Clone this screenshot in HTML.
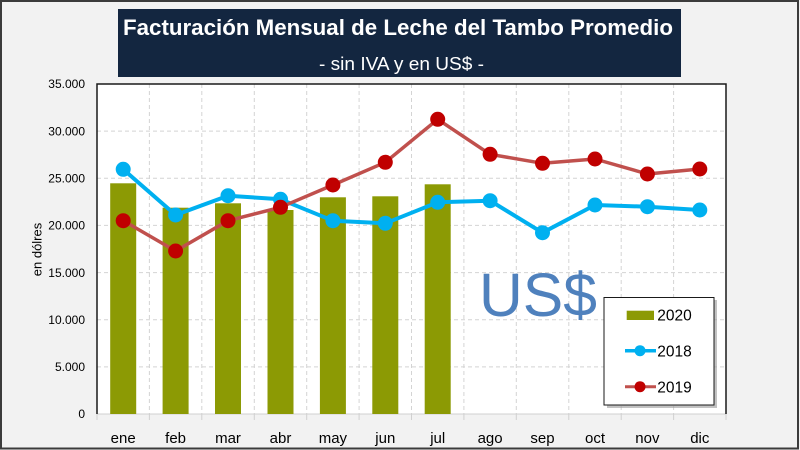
<!DOCTYPE html>
<html>
<head>
<meta charset="utf-8">
<style>
  html,body{margin:0;padding:0;background:#f2f2f2;}
  body{width:800px;height:450px;overflow:hidden;}
  svg{display:block;font-family:"Liberation Sans",sans-serif;}
</style>
</head>
<body>
<svg width="800" height="450" viewBox="0 0 800 450" xmlns="http://www.w3.org/2000/svg">
  <!-- background and outer frame -->
  <rect x="0" y="0" width="800" height="450" fill="#f2f2f2"/>
  <rect x="1" y="1" width="797" height="447.5" fill="none" stroke="#3c3c3c" stroke-width="2"/>

  <!-- Title box -->
  <rect x="118" y="9" width="563" height="68" fill="#132640"/>
  <text x="123" y="35" font-size="22.5" font-weight="bold" fill="#ffffff" textLength="550" lengthAdjust="spacingAndGlyphs">Facturación Mensual de Leche del Tambo Promedio</text>
  <text x="319" y="70" font-size="18.5" fill="#ffffff" textLength="165" lengthAdjust="spacingAndGlyphs">- sin IVA y en US$ -</text>

  <!-- Plot area -->
  <rect x="97" y="84" width="629" height="330" fill="#ffffff"/>

  <!-- horizontal gridlines -->
  <g stroke="#d4d4d4" stroke-width="1" stroke-dasharray="4,3">
    <line x1="97" y1="366.9" x2="726" y2="366.9"/>
    <line x1="97" y1="319.7" x2="726" y2="319.7"/>
    <line x1="97" y1="272.6" x2="726" y2="272.6"/>
    <line x1="97" y1="225.4" x2="726" y2="225.4"/>
    <line x1="97" y1="178.3" x2="726" y2="178.3"/>
    <line x1="97" y1="131.1" x2="726" y2="131.1"/>
  </g>
  <!-- vertical gridlines -->
  <g stroke="#d4d4d4" stroke-width="1" stroke-dasharray="4,3">
    <line x1="149.4" y1="84" x2="149.4" y2="414"/>
    <line x1="201.8" y1="84" x2="201.8" y2="414"/>
    <line x1="254.3" y1="84" x2="254.3" y2="414"/>
    <line x1="306.7" y1="84" x2="306.7" y2="414"/>
    <line x1="359.1" y1="84" x2="359.1" y2="414"/>
    <line x1="411.5" y1="84" x2="411.5" y2="414"/>
    <line x1="463.9" y1="84" x2="463.9" y2="414"/>
    <line x1="516.3" y1="84" x2="516.3" y2="414"/>
    <line x1="568.8" y1="84" x2="568.8" y2="414"/>
    <line x1="621.2" y1="84" x2="621.2" y2="414"/>
    <line x1="673.6" y1="84" x2="673.6" y2="414"/>
  </g>

  <!-- bottom axis and ticks -->
  <line x1="97" y1="414" x2="726" y2="414" stroke="#d0d0d0" stroke-width="1"/>
  <g stroke="#d0d0d0" stroke-width="1">
    <line x1="97" y1="414" x2="97" y2="420"/>
    <line x1="149.4" y1="414" x2="149.4" y2="420"/>
    <line x1="201.8" y1="414" x2="201.8" y2="420"/>
    <line x1="254.3" y1="414" x2="254.3" y2="420"/>
    <line x1="306.7" y1="414" x2="306.7" y2="420"/>
    <line x1="359.1" y1="414" x2="359.1" y2="420"/>
    <line x1="411.5" y1="414" x2="411.5" y2="420"/>
    <line x1="463.9" y1="414" x2="463.9" y2="420"/>
    <line x1="516.3" y1="414" x2="516.3" y2="420"/>
    <line x1="568.8" y1="414" x2="568.8" y2="420"/>
    <line x1="621.2" y1="414" x2="621.2" y2="420"/>
    <line x1="673.6" y1="414" x2="673.6" y2="420"/>
    <line x1="726" y1="414" x2="726" y2="420"/>
  </g>

  <!-- plot border (top, left, right) -->
  <polyline points="97,414 97,84 726,84 726,414" fill="none" stroke="#1a1a1a" stroke-width="1.5"/>

  <!-- Bars 2020 -->
  <g fill="#8c9a04">
    <rect x="110.2" y="183.3" width="26" height="230.7"/>
    <rect x="162.6" y="207.7" width="26" height="206.3"/>
    <rect x="215.0" y="203.3" width="26" height="210.7"/>
    <rect x="267.5" y="210.0" width="26" height="204.0"/>
    <rect x="319.9" y="197.3" width="26" height="216.7"/>
    <rect x="372.3" y="196.3" width="26" height="217.7"/>
    <rect x="424.7" y="184.3" width="26" height="229.7"/>
  </g>

  <!-- US$ watermark -->
  <text x="479" y="316" font-size="61" fill="#4f81bd" textLength="118" lengthAdjust="spacingAndGlyphs">US$</text>

  <!-- 2018 line -->
  <polyline fill="none" stroke="#00b0f0" stroke-width="4" stroke-linejoin="round"
    points="123.2,169.3 175.6,215 228.0,195.7 280.5,199.3 332.9,220.7 385.3,223.3 437.7,202.3 490.1,200.7 542.5,232.7 595.0,205 647.4,206.7 699.8,210"/>
  <g fill="#00b0f0">
    <circle cx="123.2" cy="169.3" r="7.5"/>
    <circle cx="175.6" cy="215" r="7.5"/>
    <circle cx="228.0" cy="195.7" r="7.5"/>
    <circle cx="280.5" cy="199.3" r="7.5"/>
    <circle cx="332.9" cy="220.7" r="7.5"/>
    <circle cx="385.3" cy="223.3" r="7.5"/>
    <circle cx="437.7" cy="202.3" r="7.5"/>
    <circle cx="490.1" cy="200.7" r="7.5"/>
    <circle cx="542.5" cy="232.7" r="7.5"/>
    <circle cx="595.0" cy="205" r="7.5"/>
    <circle cx="647.4" cy="206.7" r="7.5"/>
    <circle cx="699.8" cy="210" r="7.5"/>
  </g>

  <!-- 2019 line -->
  <polyline fill="none" stroke="#c0504d" stroke-width="3.5" stroke-linejoin="round"
    points="123.2,220.7 175.6,251 228.0,220.7 280.5,207.3 332.9,185 385.3,162.3 437.7,119.3 490.1,154.3 542.5,163.3 595.0,159 647.4,174 699.8,169"/>
  <g fill="#c00000">
    <circle cx="123.2" cy="220.7" r="7.5"/>
    <circle cx="175.6" cy="251" r="7.5"/>
    <circle cx="228.0" cy="220.7" r="7.5"/>
    <circle cx="280.5" cy="207.3" r="7.5"/>
    <circle cx="332.9" cy="185" r="7.5"/>
    <circle cx="385.3" cy="162.3" r="7.5"/>
    <circle cx="437.7" cy="119.3" r="7.5"/>
    <circle cx="490.1" cy="154.3" r="7.5"/>
    <circle cx="542.5" cy="163.3" r="7.5"/>
    <circle cx="595.0" cy="159" r="7.5"/>
    <circle cx="647.4" cy="174" r="7.5"/>
    <circle cx="699.8" cy="169" r="7.5"/>
  </g>

  <!-- Y tick labels -->
  <g font-size="12" fill="#000000" text-anchor="end">
    <text x="85" y="88">35.000</text>
    <text x="85" y="135.3">30.000</text>
    <text x="85" y="182.4">25.000</text>
    <text x="85" y="229.6">20.000</text>
    <text x="85" y="276.8">15.000</text>
    <text x="85" y="323.9">10.000</text>
    <text x="85" y="371.1">5.000</text>
    <text x="85" y="418.2">0</text>
  </g>

  <!-- Y axis title -->
  <text transform="translate(41.5,249.5) rotate(-90)" font-size="13" text-anchor="middle" fill="#000000">en dólres</text>

  <!-- X labels -->
  <g font-size="15" fill="#000000" text-anchor="middle">
    <text x="123.2" y="443">ene</text>
    <text x="175.6" y="443">feb</text>
    <text x="228.0" y="443">mar</text>
    <text x="280.5" y="443">abr</text>
    <text x="332.9" y="443">may</text>
    <text x="385.3" y="443">jun</text>
    <text x="437.7" y="443">jul</text>
    <text x="490.1" y="443">ago</text>
    <text x="542.5" y="443">sep</text>
    <text x="595.0" y="443">oct</text>
    <text x="647.4" y="443">nov</text>
    <text x="699.8" y="443">dic</text>
  </g>

  <!-- Legend -->
  <rect x="607" y="300" width="110" height="108" fill="#9a9a9a" opacity="0.6"/>
  <rect x="604" y="297.5" width="110" height="107.5" fill="#ffffff" stroke="#1a1a1a" stroke-width="1"/>
  <rect x="626.7" y="310.7" width="27.3" height="9.3" fill="#8c9a04"/>
  <line x1="625" y1="350.7" x2="656" y2="350.7" stroke="#00b0f0" stroke-width="3.5"/>
  <circle cx="640" cy="350.7" r="5.5" fill="#00b0f0"/>
  <line x1="625" y1="386.7" x2="656" y2="386.7" stroke="#c0504d" stroke-width="3"/>
  <circle cx="640" cy="386.7" r="5.5" fill="#c00000"/>
  <g font-size="15.5" fill="#000000">
    <text x="657.3" y="320.7">2020</text>
    <text x="657.3" y="356.3">2018</text>
    <text x="657.3" y="392.3">2019</text>
  </g>
</svg>
</body>
</html>
